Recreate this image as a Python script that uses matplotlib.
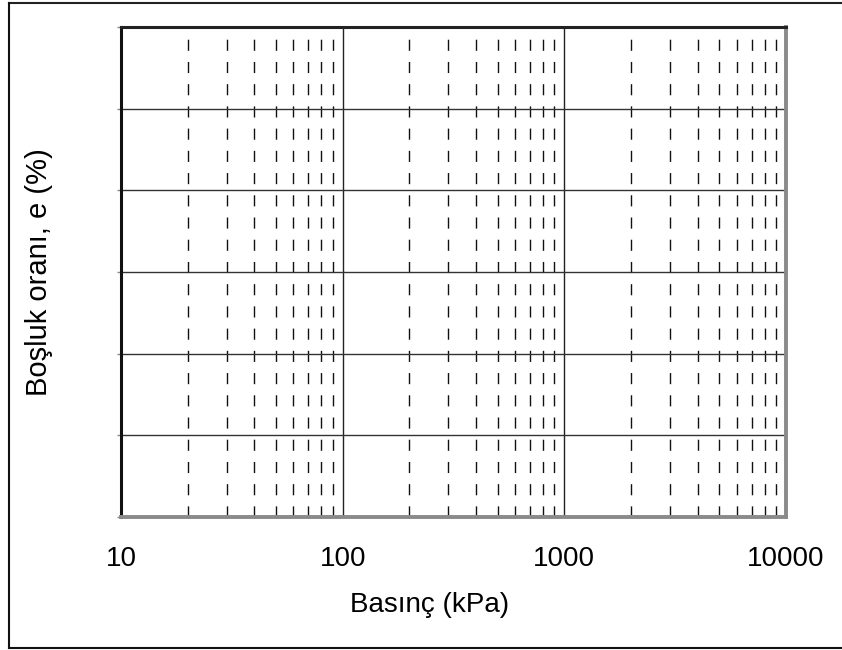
import matplotlib
matplotlib.use("Agg")
import matplotlib.pyplot as plt
from matplotlib.lines import Line2D
from matplotlib.ticker import FixedLocator, NullFormatter, FixedFormatter

plt.rcParams['font.family'] = ['Liberation Sans', 'DejaVu Sans']

# Data
x_major = [10, 100, 1000, 10000]
x_labels = ["10", "100", "1000", "10000"]
x_minor = [m * d for d in [10, 100, 1000] for m in range(2, 10)]
y_ticks = [0, 1, 2, 3, 4, 5, 6]
x_title = "Basınç (kPa)"
y_title = "Boşluk oranı, e (%)"

W, H = 842, 650
fig = plt.figure(figsize=(W / 100, H / 100), dpi=100)
ax = fig.add_axes([121 / W, 1 - 517 / H, (786 - 121) / W, (517 - 27) / H])
ax.set_xscale('log')
ax.set_xlim(x_major[0], x_major[-1])
ax.set_ylim(y_ticks[0], y_ticks[-1])

ax.xaxis.set_major_locator(FixedLocator(x_major))
ax.xaxis.set_major_formatter(FixedFormatter(x_labels))
ax.xaxis.set_minor_locator(FixedLocator(x_minor))
ax.xaxis.set_minor_formatter(NullFormatter())
ax.set_yticks(y_ticks)
ax.set_yticklabels([])

ax.tick_params(axis='x', which='both', length=0, pad=21, labelsize=20)
ax.tick_params(axis='y', which='major', length=3, width=1, color='#888888', direction='out')

for v in x_major[1:-1]:
    ax.axvline(v, color='#222222', lw=1.0, zorder=1)
for v in x_minor:
    ax.axvline(v, color='#111111', lw=1.0, ls=(0, (8, 8)), zorder=1)
for v in y_ticks[1:-1]:
    ax.axhline(v, color='#333333', lw=1.0, zorder=1)

ax.spines['left'].set_color('#111111')
ax.spines['left'].set_linewidth(2.2)
ax.spines['top'].set_color('#222222')
ax.spines['top'].set_linewidth(2.2)
ax.spines['bottom'].set_color('#8a8a8a')
ax.spines['bottom'].set_linewidth(2.8)
ax.spines['right'].set_color('#8a8a8a')
ax.spines['right'].set_linewidth(2.8)

ax.set_xlabel(x_title, fontsize=20, labelpad=15)
ax.xaxis.set_label_coords((430 - 121) / (786 - 121), -(605 - 517) / (517 - 27))
ax.xaxis.label.set_va('center')
ax.set_ylabel(y_title, fontsize=21)
ax.yaxis.set_label_coords(-(121 - 39) / (786 - 121), 0.5)
ax.yaxis.label.set_va('center')

# outer frame
fx0, fy0, fy1 = 8.5 / W, 1 - 648 / H, 1 - 2.5 / H
fig.add_artist(Line2D([fx0, 1.01], [fy1, fy1], transform=fig.transFigure, color='#222222', lw=1.5))
fig.add_artist(Line2D([fx0, fx0], [fy0, fy1], transform=fig.transFigure, color='#111111', lw=1.5))
fig.add_artist(Line2D([fx0, 1.01], [fy0, fy0], transform=fig.transFigure, color='#111111', lw=1.5))

fig.savefig("out.png", dpi=100)
